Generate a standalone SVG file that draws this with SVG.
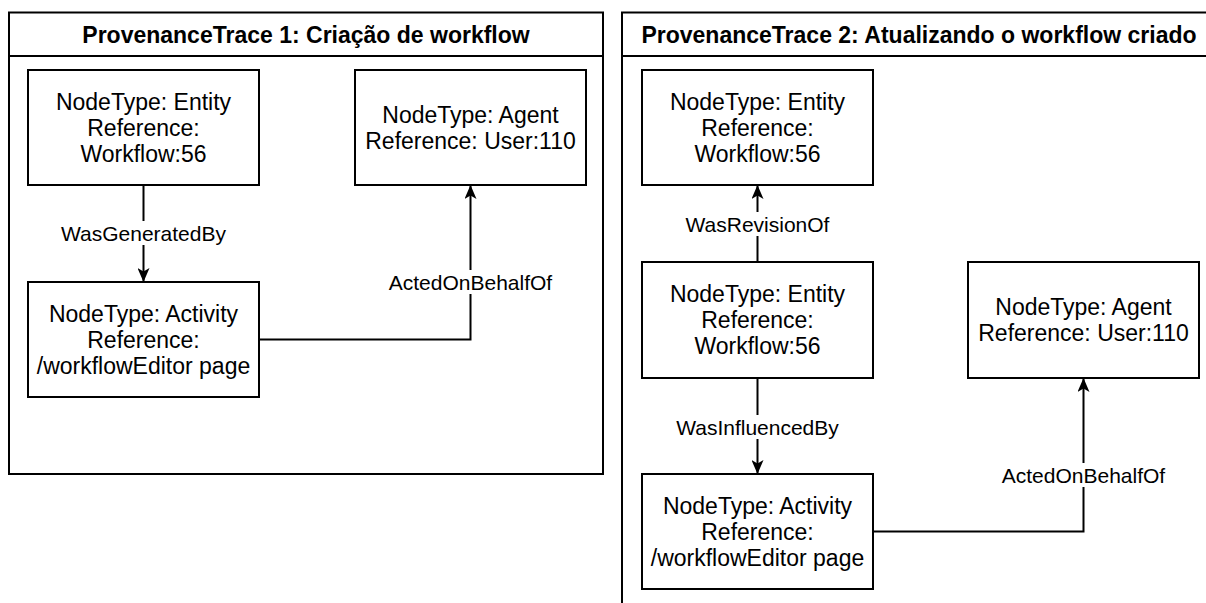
<svg xmlns="http://www.w3.org/2000/svg" width="1206" height="603" viewBox="0 0 1206 603">
  <style>
    .frame { fill: #ffffff; stroke: #000000; stroke-width: 2; }
    .box { fill: #ffffff; stroke: #000000; stroke-width: 2; }
    .title { font-family: "Liberation Sans", Arial, Helvetica, sans-serif; font-size: 23px; font-weight: bold; fill: #000000; text-anchor: middle; }
    .node-text { font-family: "Liberation Sans", Arial, Helvetica, sans-serif; font-size: 23px; fill: #000000; text-anchor: middle; }
    .edge { fill: none; stroke: #000000; stroke-width: 2; }
    .edge-label { font-family: "Liberation Sans", Arial, Helvetica, sans-serif; font-size: 21px; fill: #000000; text-anchor: middle; }
    .label-bg { fill: #ffffff; stroke: none; }
  </style>
  <defs>
    <marker id="arrow" viewBox="0 0 14 12" refX="14" refY="6" markerWidth="14" markerHeight="12" markerUnits="userSpaceOnUse" orient="auto">
      <path d="M0,0 L14,6 L0,12 L3.5,6 Z" fill="#000000"/>
    </marker>
  </defs>

  <rect width="1206" height="603" fill="#ffffff"/>

  <!-- Trace 1 container -->
  <g id="trace1">
    <rect class="frame" x="9" y="12.5" width="594" height="461.5"/>
    <line class="frame" x1="9" y1="56" x2="603" y2="56"/>
    <text class="title" x="306" y="42.5">ProvenanceTrace 1: Criação de workflow</text>
  </g>

  <!-- Trace 2 container (continues past the right and bottom edges) -->
  <g id="trace2">
    <rect class="frame" x="622" y="12.5" width="594" height="610"/>
    <line class="frame" x1="622" y1="56" x2="1216" y2="56"/>
    <text class="title" x="919" y="42.5">ProvenanceTrace 2: Atualizando o workflow criado</text>
  </g>

  <!-- Connectors -->
  <g id="connectors">
    <!-- Trace 1 -->
    <line class="edge" x1="143.5" y1="185" x2="143.5" y2="282" marker-end="url(#arrow)"/>
    <rect class="label-bg" x="59" y="221" width="169" height="24"/>
    <text class="edge-label" x="143.5" y="240.5">WasGeneratedBy</text>

    <path class="edge" d="M259,339.5 H470.5 V185" marker-end="url(#arrow)"/>
    <rect class="label-bg" x="387" y="270" width="167" height="24"/>
    <text class="edge-label" x="470.5" y="289.5">ActedOnBehalfOf</text>

    <!-- Trace 2 -->
    <line class="edge" x1="757.5" y1="262" x2="757.5" y2="185" marker-end="url(#arrow)"/>
    <rect class="label-bg" x="684" y="212" width="147" height="24"/>
    <text class="edge-label" x="757.5" y="231.5">WasRevisionOf</text>

    <line class="edge" x1="757.5" y1="378" x2="757.5" y2="474" marker-end="url(#arrow)"/>
    <rect class="label-bg" x="674" y="415" width="167" height="24"/>
    <text class="edge-label" x="757.5" y="434.5">WasInfluencedBy</text>

    <path class="edge" d="M873,531.5 H1083.5 V378" marker-end="url(#arrow)"/>
    <rect class="label-bg" x="1000" y="463" width="167" height="24"/>
    <text class="edge-label" x="1083.5" y="482.5">ActedOnBehalfOf</text>
  </g>

  <!-- Trace 1 nodes -->
  <g id="t1-entity">
    <rect class="box" x="28" y="70" width="231" height="115"/>
    <text class="node-text" x="143.5" y="109.5">NodeType: Entity</text>
    <text class="node-text" x="143.5" y="135.5">Reference:</text>
    <text class="node-text" x="143.5" y="161.5">Workflow:56</text>
  </g>
  <g id="t1-agent">
    <rect class="box" x="355" y="70" width="231" height="115"/>
    <text class="node-text" x="470.5" y="122.5">NodeType: Agent</text>
    <text class="node-text" x="470.5" y="148.5">Reference: User:110</text>
  </g>
  <g id="t1-activity">
    <rect class="box" x="28" y="282" width="231" height="115"/>
    <text class="node-text" x="143.5" y="321.5">NodeType: Activity</text>
    <text class="node-text" x="143.5" y="347.5">Reference:</text>
    <text class="node-text" x="143.5" y="373.5">/workflowEditor page</text>
  </g>

  <!-- Trace 2 nodes -->
  <g id="t2-entity-rev">
    <rect class="box" x="642" y="70" width="231" height="115"/>
    <text class="node-text" x="757.5" y="109.5">NodeType: Entity</text>
    <text class="node-text" x="757.5" y="135.5">Reference:</text>
    <text class="node-text" x="757.5" y="161.5">Workflow:56</text>
  </g>
  <g id="t2-entity">
    <rect class="box" x="642" y="262" width="231" height="116"/>
    <text class="node-text" x="757.5" y="302">NodeType: Entity</text>
    <text class="node-text" x="757.5" y="328">Reference:</text>
    <text class="node-text" x="757.5" y="354">Workflow:56</text>
  </g>
  <g id="t2-agent">
    <rect class="box" x="968" y="262" width="231" height="116"/>
    <text class="node-text" x="1083.5" y="315">NodeType: Agent</text>
    <text class="node-text" x="1083.5" y="341">Reference: User:110</text>
  </g>
  <g id="t2-activity">
    <rect class="box" x="642" y="474" width="231" height="115"/>
    <text class="node-text" x="757.5" y="513.5">NodeType: Activity</text>
    <text class="node-text" x="757.5" y="539.5">Reference:</text>
    <text class="node-text" x="757.5" y="565.5">/workflowEditor page</text>
  </g>
</svg>
